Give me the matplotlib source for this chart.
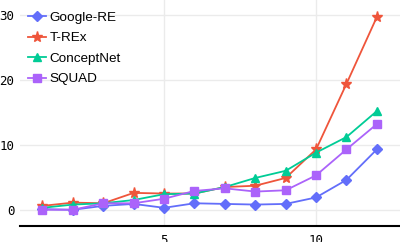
import numpy as np
import matplotlib.pyplot as plt

# data
steps = [1, 2, 3, 4, 5, 6, 7, 8, 9, 10, 11, 12]
google_re = [0.1, 0.0, 0.6, 0.9, 0.3, 1.0, 0.9, 0.8, 0.9, 1.9, 4.6, 9.3]
t_rex = [0.6, 1.1, 1.0, 2.6, 2.5, 2.5, 3.5, 3.7, 4.9, 9.3, 19.4, 29.7]
conceptnet = [0.3, 0.8, 1.0, 1.5, 2.4, 2.5, 3.5, 4.9, 6.0, 8.8, 11.2, 15.2]
squad = [0.0, 0.0, 1.0, 1.0, 1.7, 2.9, 3.3, 2.8, 3.0, 5.3, 9.3, 13.2]

series = [
    ("Google-RE", google_re, "#636efa", "D", 5.5),
    ("T-REx", t_rex, "#ef553b", "*", 8),
    ("ConceptNet", conceptnet, "#00cc96", "^", 6),
    ("SQUAD", squad, "#ab63fa", "s", 5.5),
]

fig = plt.figure(figsize=(4.0, 2.42), dpi=100)
ax = fig.add_axes([0.05, 16 / 242, 0.95, 226 / 242])

for name, vals, col, mk, ms in series:
    ax.plot(steps, vals, color=col, marker=mk, markersize=ms, linewidth=1.3,
            label=name)

ax.set_xlim(0.26, 12.76)
ax.set_ylim(-2.5, 32.3)
ax.set_xticks([5, 10])
ax.set_yticks([0, 10, 20, 30])
ax.grid(True, color="#ebebeb", linewidth=1)
ax.set_axisbelow(True)
for s in ["top", "right", "left"]:
    ax.spines[s].set_visible(False)
ax.spines["bottom"].set_color("black")
ax.spines["bottom"].set_linewidth(1.5)
ax.tick_params(length=0)
ax.tick_params(axis="y", pad=4)
ax.tick_params(axis="x", pad=6)
for lab in ax.get_xticklabels() + ax.get_yticklabels():
    lab.set_family("DejaVu Sans Mono")
    lab.set_fontsize(9)

leg = ax.legend(loc="upper left", bbox_to_anchor=(0.0, 0.985), frameon=False,
                prop={"family": "Liberation Sans", "size": 9.7},
                handlelength=1.3, handletextpad=0.3, labelspacing=0.6,
                borderaxespad=0.2)

fig.savefig("out.png", dpi=100)
plt.close()
